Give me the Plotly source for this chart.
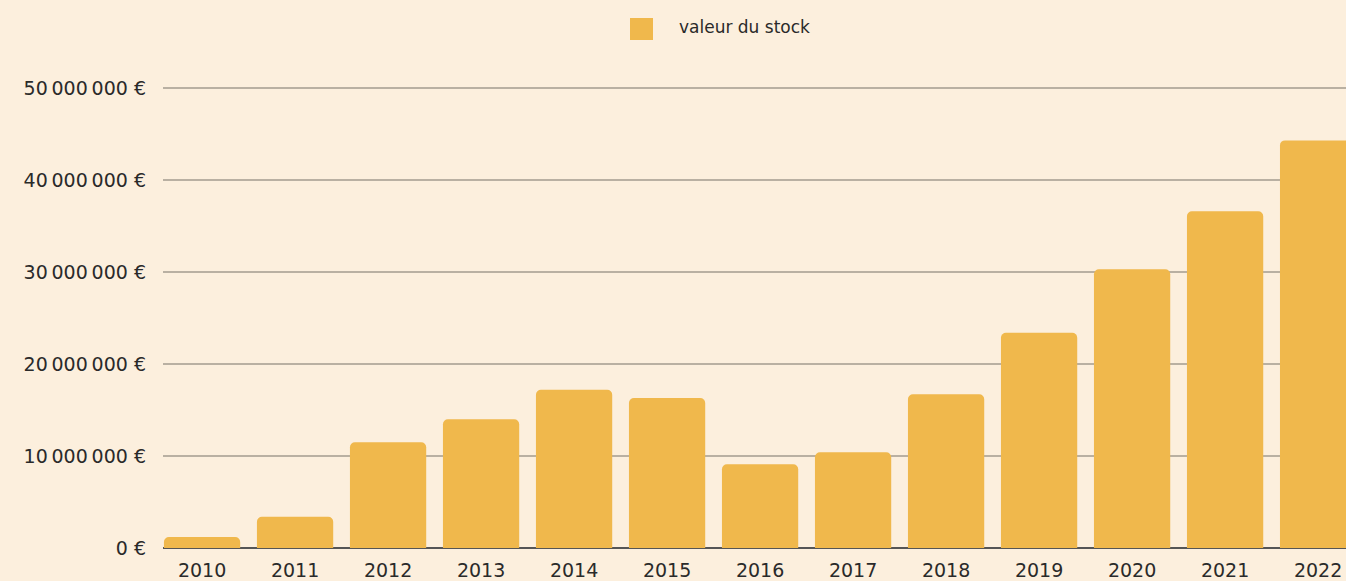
import plotly.graph_objects as go

years = ["2010", "2011", "2012", "2013", "2014", "2015", "2016", "2017", "2018", "2019", "2020", "2021", "2022"]
stock_values = [1.2e6, 3.4e6, 11.5e6, 14.0e6, 17.2e6, 16.3e6, 9.1e6, 10.4e6, 16.7e6, 23.4e6, 30.3e6, 36.6e6, 44.3e6]
series_name = "valeur du stock"
y_tickvals = [0, 10e6, 20e6, 30e6, 40e6, 50e6]
y_ticktext = ["0 €", "10\u2009000\u2009000 €", "20\u2009000\u2009000 €", "30\u2009000\u2009000 €",
              "40\u2009000\u2009000 €", "50\u2009000\u2009000 €"]

BG = "#fcefdd"
BAR = "#f0b84c"
TXT = "#2a2a2a"
FONT = "'DejaVu Sans', 'Noto Sans', sans-serif"

positions = list(range(len(years)))

fig = go.Figure()
fig.add_trace(go.Bar(
    x=positions, y=stock_values, name=series_name,
    marker=dict(color=BAR, line=dict(width=0)),
    showlegend=False,
))

W, H = 1346, 581
L, R, T, B = 163, 0, 60, 33
pw, ph = W - L - R, H - T - B

def px_x(p):
    return (p - L) / pw

def px_y(p):
    return (H - B - p) / ph

fig.add_shape(type="rect", xref="paper", yref="paper",
              x0=px_x(630), x1=px_x(653), y0=px_y(40), y1=px_y(18),
              fillcolor=BAR, line=dict(width=0))
fig.add_annotation(xref="paper", yref="paper", x=px_x(677), y=px_y(27),
                   text=series_name, showarrow=False, xanchor="left", yanchor="middle",
                   font=dict(family=FONT, size=17, color=TXT))

fig.update_layout(
    width=W, height=H,
    paper_bgcolor=BG, plot_bgcolor=BG,
    margin=dict(l=L, r=R, t=T, b=B, pad=0),
    bargap=0.18,
    barcornerradius=5,
    font=dict(family=FONT, color=TXT),
    xaxis=dict(
        range=[-0.42, 12.30],
        tickvals=positions, ticktext=years,
        tickfont=dict(size=19, color=TXT),
        showgrid=False, zeroline=False, showline=False,
        ticks="", ticklabelstandoff=9,
    ),
    yaxis=dict(
        range=[0, 53.04e6],
        tickvals=y_tickvals, ticktext=y_ticktext,
        tickfont=dict(size=19, color=TXT),
        showgrid=True, gridcolor="#b9b0a2", gridwidth=1.5,
        zeroline=True, zerolinecolor="#555555", zerolinewidth=2,
        ticks="", ticklabelstandoff=16,
    ),
)

post = ("document.body.style.margin='0';document.body.style.padding='0';"
        "document.body.style.overflow='hidden';document.body.style.background='%s';" % BG)
fig.write_html("out.html", post_script=post, config={"displayModeBar": False})
